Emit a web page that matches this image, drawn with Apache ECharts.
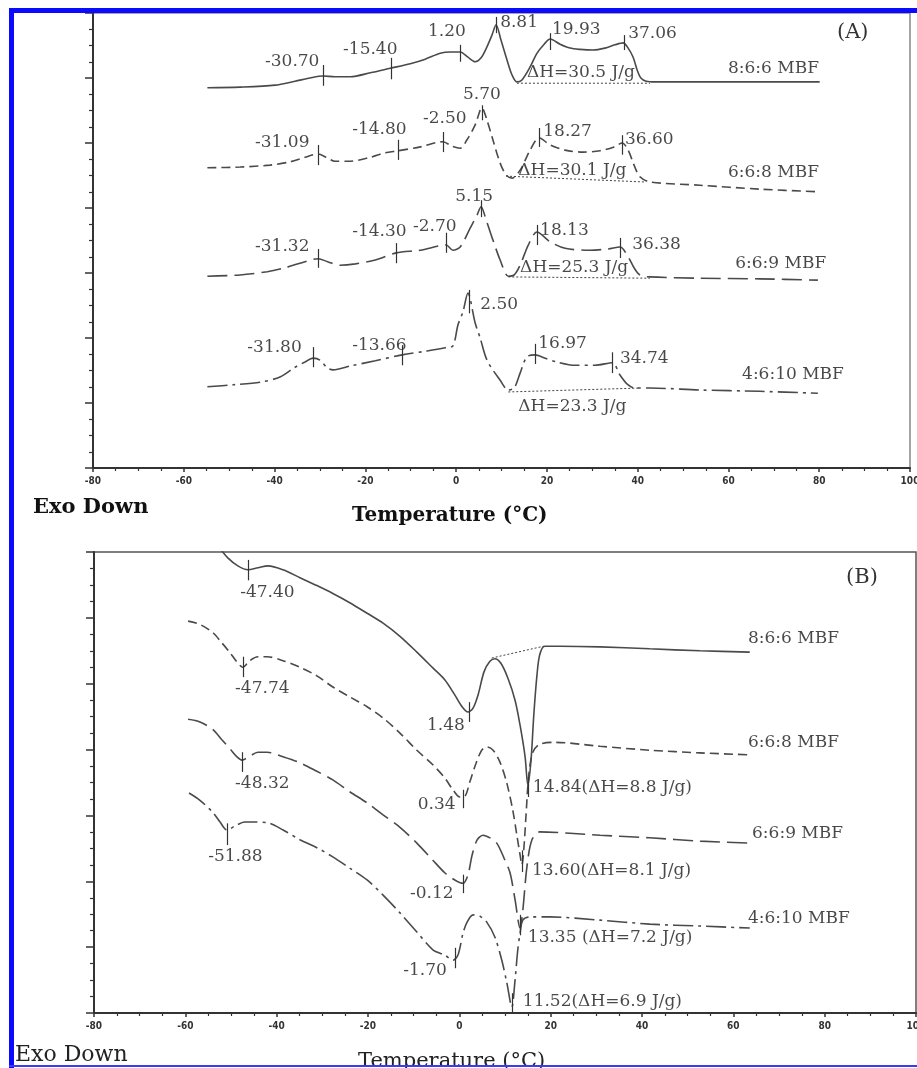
<!DOCTYPE html>
<html><head><meta charset="utf-8">
<script src="https://cdn.jsdelivr.net/npm/echarts@6/dist/echarts.min.js"></script>
<style>html,body{margin:0;padding:0;background:#fff;overflow:hidden}#c{width:917px;height:1068px}</style>
</head><body><div id="c"></div>
<script>
// ---------- axis settings ----------
const tempMin = -80, tempMax = 100, tempStep = 20;
const heatMin = 0, heatMax = 7, heatStep = 1;

// ---------- Panel A : heating curves [temperature, heat flow (a.u.)] ----------
const a866 = [[-54.8,5.85],[-47.6,5.86],[-39.9,5.89],[-35.5,5.95],[-32.2,6.00],[-29.3,6.03],[-26.7,6.02],[-23.3,6.02],[-18.9,6.08],[-14.5,6.15],[-10.1,6.22],[-6.8,6.29],[-3.5,6.38],[-1.3,6.40],[0.9,6.40],[2.6,6.32],[4.2,6.25],[5.5,6.31],[6.8,6.48],[7.9,6.66],[8.8,6.82],[9.9,6.58],[11.2,6.28],[12.3,6.05],[13.4,5.94],[14.5,5.97],[16.3,6.17],[17.8,6.38],[19.4,6.52],[20.7,6.60],[22.9,6.52],[25.1,6.46],[27.3,6.44],[30.2,6.43],[32.8,6.46],[35.0,6.51],[36.8,6.54],[37.9,6.46],[39.0,6.32],[39.9,6.12],[40.7,6.00],[41.9,5.95],[43.8,5.94],[53.7,5.94],[66.9,5.94],[80.1,5.94]];
const a668 = [[-54.8,4.62],[-47.6,4.63],[-41.0,4.66],[-36.6,4.71],[-33.3,4.78],[-30.4,4.83],[-28.6,4.78],[-26.7,4.72],[-23.3,4.72],[-18.9,4.78],[-15.6,4.85],[-12.8,4.88],[-7.9,4.94],[-2.9,5.02],[-0.9,4.95],[0.9,4.92],[2.4,5.05],[4.2,5.28],[5.7,5.54],[6.8,5.35],[8.1,5.05],[9.7,4.69],[11.0,4.51],[12.3,4.46],[14.1,4.58],[16.3,4.89],[18.3,5.08],[20.7,4.97],[24.0,4.89],[28.0,4.86],[31.7,4.88],[34.8,4.94],[36.6,5.00],[37.9,4.89],[39.2,4.66],[40.5,4.48],[42.7,4.40],[53.7,4.35],[66.9,4.29],[79.7,4.25]];
const a669 = [[-54.8,2.95],[-47.6,2.97],[-41.6,3.02],[-37.7,3.08],[-34.4,3.15],[-30.4,3.22],[-28.2,3.17],[-25.6,3.12],[-22.2,3.14],[-17.8,3.20],[-13.2,3.31],[-7.9,3.35],[-2.2,3.43],[-0.7,3.35],[0.9,3.40],[3.1,3.69],[4.6,3.89],[5.5,4.02],[6.6,3.82],[8.1,3.51],[9.7,3.20],[11.5,2.95],[12.8,2.97],[14.1,3.12],[15.9,3.43],[17.8,3.63],[20.7,3.48],[24.0,3.38],[29.5,3.35],[33.5,3.37],[36.1,3.40],[37.9,3.25],[39.2,3.08],[40.5,2.97],[42.7,2.94],[53.7,2.92],[66.9,2.91],[79.7,2.89]];
const a4610 = [[-54.8,1.25],[-49.1,1.28],[-43.2,1.32],[-38.8,1.40],[-35.5,1.55],[-33.3,1.63],[-31.5,1.69],[-30.0,1.66],[-28.4,1.54],[-27.1,1.51],[-23.3,1.57],[-17.8,1.65],[-11.9,1.74],[-6.4,1.80],[-2.4,1.85],[-0.7,1.88],[0.4,2.20],[1.5,2.40],[2.6,2.69],[4.2,2.23],[5.3,2.00],[6.8,1.66],[9.7,1.35],[11.5,1.20],[12.8,1.23],[14.1,1.46],[15.6,1.71],[17.4,1.74],[19.6,1.69],[22.2,1.63],[26.2,1.58],[30.6,1.58],[34.4,1.62],[36.1,1.43],[37.7,1.29],[39.4,1.23],[42.7,1.23],[53.7,1.20],[66.9,1.18],[79.7,1.15]];
// integration baselines
const aBase866 = [[13.4,5.92],[42.7,5.92]];
const aBase668 = [[11.0,4.49],[41.6,4.40]];
const aBase669 = [[11.5,2.94],[42.7,2.92]];
const aBase4610 = [[11.5,1.17],[40.5,1.23]];
// annotation tick marks [temperature, top, bottom]
const aTicks866 = [[-29.3,6.20,5.88],[-14.3,6.31,5.98],[0.9,6.51,6.25],[8.8,6.94,6.69],[20.7,6.69,6.43],[37.0,6.66,6.43]];
const aTicks668 = [[-30.4,4.97,4.66],[-12.8,5.05,4.74],[-2.9,5.17,4.86],[5.7,5.58,5.35],[18.3,5.23,4.94],[36.6,5.12,4.82]];
const aTicks669 = [[-30.4,3.37,3.08],[-13.2,3.46,3.15],[-2.2,3.62,3.31],[5.5,4.12,3.86],[17.8,3.74,3.43],[36.1,3.54,3.23]];
const aTicks4610 = [[-31.5,1.86,1.55],[-11.9,1.89,1.58],[2.9,2.74,2.38],[17.4,1.91,1.60],[34.4,1.78,1.46]];
// annotation texts [temperature, heat flow, text]
const aTexts = [
  [-42.1,6.25,'-30.70'],[-24.9,6.43,'-15.40'],[-6.2,6.71,'1.20'],[9.7,6.85,'8.81'],[21.1,6.74,'19.93'],[37.9,6.69,'37.06'],[15.6,6.09,'ΔH=30.5 J/g'],[59.9,6.15,'8:6:6 MBF'],
  [-44.3,5.00,'-31.09'],[-22.9,5.20,'-14.80'],[-7.3,5.38,'-2.50'],[1.5,5.74,'5.70'],[19.2,5.18,'18.27'],[37.2,5.05,'36.60'],[13.7,4.58,'ΔH=30.1 J/g'],[59.9,4.54,'6:6:8 MBF'],
  [-44.3,3.40,'-31.32'],[-22.9,3.63,'-14.30'],[-9.5,3.71,'-2.70'],[-0.2,4.17,'5.15'],[18.5,3.66,'18.13'],[38.8,3.43,'36.38'],[14.1,3.09,'ΔH=25.3 J/g'],[61.5,3.15,'6:6:9 MBF'],
  [-46.0,1.85,'-31.80'],[-22.9,1.89,'-13.66'],[5.3,2.51,'2.50'],[18.1,1.92,'16.97'],[36.1,1.69,'34.74'],[13.7,0.94,'ΔH=23.3 J/g'],[63.0,1.43,'4:6:10 MBF']
];

// ---------- Panel B : cooling curves ----------
const b866 = [[-52.9,7.10],[-50.7,6.91],[-48.5,6.79],[-46.3,6.73],[-44.1,6.76],[-41.9,6.79],[-38.6,6.73],[-34.9,6.61],[-31.2,6.49],[-27.7,6.37],[-24.0,6.23],[-20.2,6.07],[-16.7,5.92],[-13.0,5.72],[-9.3,5.48],[-5.8,5.24],[-3.2,5.06],[-1.0,4.83],[0.6,4.65],[1.9,4.57],[3.0,4.63],[4.1,4.83],[5.4,5.18],[6.7,5.34],[7.8,5.38],[9.1,5.31],[10.6,5.09],[12.2,4.75],[13.3,4.37],[14.4,3.89],[15.0,3.46],[15.7,3.84],[16.3,4.52],[17.0,5.13],[17.6,5.44],[18.7,5.57],[22.0,5.57],[30.8,5.56],[41.7,5.53],[52.7,5.50],[63.6,5.48]];
const b668 = [[-59.4,5.95],[-56.8,5.90],[-53.9,5.77],[-52.0,5.62],[-50.2,5.47],[-48.7,5.33],[-47.4,5.25],[-45.9,5.35],[-44.1,5.41],[-42.1,5.41],[-38.6,5.35],[-34.9,5.25],[-31.2,5.12],[-27.7,4.95],[-24.0,4.80],[-20.2,4.65],[-16.7,4.48],[-13.0,4.25],[-9.3,3.99],[-5.8,3.77],[-3.2,3.57],[-1.4,3.39],[0.1,3.28],[1.2,3.29],[2.3,3.51],[3.6,3.78],[4.9,3.99],[6.0,4.04],[7.4,3.99],[8.9,3.81],[10.4,3.49],[11.7,3.08],[12.6,2.70],[13.3,2.40],[13.7,2.25],[14.1,2.47],[14.6,3.00],[15.2,3.61],[16.1,3.96],[17.6,4.08],[20.9,4.11],[30.8,4.05],[41.7,3.99],[52.7,3.95],[63.6,3.92]];
const b669 = [[-59.4,4.46],[-56.8,4.42],[-53.9,4.30],[-52.0,4.15],[-50.2,4.01],[-48.7,3.89],[-47.6,3.84],[-45.9,3.90],[-44.1,3.96],[-42.1,3.96],[-38.6,3.89],[-34.9,3.80],[-31.2,3.67],[-27.7,3.54],[-24.0,3.36],[-20.2,3.19],[-16.7,3.01],[-13.0,2.82],[-9.3,2.58],[-5.8,2.32],[-3.2,2.13],[-1.0,2.02],[0.8,1.97],[1.9,2.10],[2.8,2.40],[3.9,2.63],[5.2,2.70],[6.7,2.66],[8.2,2.58],[9.8,2.35],[11.1,2.13],[12.2,1.72],[13.3,1.29],[13.9,1.56],[14.8,2.22],[15.9,2.63],[17.6,2.75],[24.2,2.73],[30.8,2.70],[41.7,2.66],[52.7,2.61],[63.6,2.58]];
const b4610 = [[-59.2,3.34],[-56.8,3.23],[-53.9,3.04],[-52.4,2.90],[-50.9,2.78],[-49.1,2.84],[-47.0,2.90],[-44.8,2.90],[-42.1,2.89],[-38.6,2.78],[-34.9,2.63],[-31.2,2.51],[-27.7,2.37],[-24.0,2.20],[-20.2,2.02],[-16.7,1.79],[-13.0,1.52],[-9.3,1.23],[-5.8,0.96],[-3.2,0.88],[-1.4,0.80],[-0.3,0.88],[0.8,1.21],[1.7,1.38],[3.0,1.49],[4.5,1.47],[6.0,1.38],[7.8,1.15],[9.3,0.80],[10.4,0.46],[11.5,0.09],[12.2,0.50],[12.8,0.96],[13.3,1.21],[13.9,1.41],[15.5,1.46],[19.8,1.46],[30.8,1.41],[41.7,1.35],[52.7,1.32],[63.6,1.29]];
const bBase866 = [[7.1,5.39],[18.5,5.57]];
const bTicks866 = [[-46.3,6.88,6.57],[2.1,4.72,4.42],[15.0,3.58,3.28]];
const bTicks668 = [[-47.4,5.41,5.10],[0.8,3.39,3.11],[13.7,2.47,2.14]];
const bTicks669 = [[-47.6,3.96,3.66],[0.8,2.10,1.82],[13.3,1.49,1.18]];
const bTicks4610 = [[-50.9,2.88,2.55],[-1.0,0.99,0.68],[11.5,0.30,0.00]];
const bTexts = [
  [-48.0,6.39,'-47.40'],[-7.1,4.36,'1.48'],[16.1,3.42,'14.84(ΔH=8.8 J/g)'],[63.2,5.69,'8:6:6 MBF'],
  [-49.1,4.92,'-47.74'],[-9.1,3.16,'0.34'],[15.9,2.16,'13.60(ΔH=8.1 J/g)'],[63.2,4.10,'6:6:8 MBF'],
  [-49.1,3.49,'-48.32'],[-10.8,1.82,'-0.12'],[15.0,1.15,'13.35 (ΔH=7.2 J/g)'],[64.1,2.73,'6:6:9 MBF'],
  [-55.0,2.38,'-51.88'],[-12.3,0.65,'-1.70'],[13.9,0.17,'11.52(ΔH=6.9 J/g)'],[63.2,1.44,'4:6:10 MBF']
];

// ---------- styles ----------
const CURVE = '#4a4a4a';
const SOLID = 'solid', DASH = [9,5], LONGDASH = [20,7], DASHDOT = [20,5,3,5];
const SERIF = '"DejaVu Serif", "Liberation Serif", serif';

function curve(data, idx, dash, ticks) {
  return {
    type: 'line', xAxisIndex: idx, yAxisIndex: idx, data: data, symbol: 'none',
    smooth: 0.3, clip: true, z: 3,
    lineStyle: { color: CURVE, width: 1.6, type: dash },
    markLine: {
      silent: true, symbol: ['none','none'], animation: false,
      label: { show: false },
      lineStyle: { color: '#333', width: 1.2, type: 'solid' },
      emphasis: { disabled: true },
      data: ticks.map(t => [{ coord: [t[0], t[1]] }, { coord: [t[0], t[2]] }])
    }
  };
}
function baseline(data, idx) {
  return { type: 'line', xAxisIndex: idx, yAxisIndex: idx, data: data, symbol: 'none', z: 2,
    lineStyle: { color: '#444', width: 1, type: [2,2] } };
}
function texts(list, idx) {
  return { type: 'scatter', xAxisIndex: idx, yAxisIndex: idx, symbolSize: 0, z: 5, silent: true,
    data: list.map(t => ({ value: [t[0], t[1]], name: t[2] })),
    label: { show: true, position: 'right', distance: 0, formatter: p => p.name,
      fontFamily: SERIF, fontSize: 17, color: '#1a1a1a' } };
}
function xAxis(idx) {
  return { type: 'value', gridIndex: idx, min: tempMin, max: tempMax, interval: tempStep,
    axisLine: { onZero: false, lineStyle: { color: '#333', width: 2 } },
    axisTick: { length: 4, lineStyle: { color: '#333', width: 1.5 } },
    minorTick: { show: true, splitNumber: 4, length: 3, lineStyle: { color: '#333', width: 1.2 } },
    splitLine: { show: false }, minorSplitLine: { show: false },
    axisLabel: { fontSize: 10, fontWeight: 'bold', color: '#333', margin: 8,
      fontFamily: '"Liberation Sans Narrow", "DejaVu Sans Condensed", "Liberation Sans", sans-serif' } };
}
function yAxis(idx) {
  return { type: 'value', gridIndex: idx, min: heatMin, max: heatMax, interval: heatStep,
    axisLine: { onZero: false, lineStyle: { color: '#333', width: 2 } },
    axisTick: { length: 8, lineStyle: { color: '#333', width: 1.5 } },
    minorTick: { show: true, splitNumber: 4, length: 4, lineStyle: { color: '#333', width: 1.2 } },
    splitLine: { show: false }, axisLabel: { show: false } };
}

const chart = echarts.init(document.getElementById('c'), null, { renderer: 'canvas' });
chart.setOption({
  animation: false,
  backgroundColor: '#fff',
  grid: [
    { left: 93, right: 7, top: 13, height: 455, show: true, borderColor: '#888', borderWidth: 1.5, outerBoundsMode: 'none', containLabel: false },
    { left: 94, right: 1, top: 552, height: 461, show: true, borderColor: '#555', borderWidth: 1.5, outerBoundsMode: 'none', containLabel: false }
  ],
  xAxis: [xAxis(0), xAxis(1)],
  yAxis: [yAxis(0), yAxis(1)],
  series: [
    curve(a866, 0, SOLID, aTicks866), curve(a668, 0, DASH, aTicks668),
    curve(a669, 0, LONGDASH, aTicks669), curve(a4610, 0, DASHDOT, aTicks4610),
    baseline(aBase866, 0), baseline(aBase668, 0), baseline(aBase669, 0), baseline(aBase4610, 0),
    texts(aTexts, 0),
    curve(b866, 1, SOLID, bTicks866), curve(b668, 1, DASH, bTicks668),
    curve(b669, 1, LONGDASH, bTicks669), curve(b4610, 1, DASHDOT, bTicks4610),
    baseline(bBase866, 1),
    texts(bTexts, 1)
  ],
  graphic: [
    { type: 'text', x: 837, y: 33, z: 10, style: { text: '(A)', font: '21px ' + SERIF, fill: '#333', verticalAlign: 'middle' } },
    { type: 'text', x: 846, y: 578, z: 10, style: { text: '(B)', font: '21px ' + SERIF, fill: '#333', verticalAlign: 'middle' } },
    { type: 'text', x: 33, y: 508, z: 10, style: { text: 'Exo Down', font: 'bold 21px ' + SERIF, fill: '#111', verticalAlign: 'middle' } },
    { type: 'text', x: 352, y: 516, z: 10, style: { text: 'Temperature (°C)', font: 'bold 20px ' + SERIF, fill: '#111', verticalAlign: 'middle' } },
    { type: 'text', x: 15, y: 1055, z: 10, style: { text: 'Exo Down', font: '22px ' + SERIF, fill: '#222', verticalAlign: 'middle' } },
    { type: 'text', x: 358, y: 1062, z: 10, style: { text: 'Temperature (°C)', font: '21px ' + SERIF, fill: '#222', verticalAlign: 'middle' } },
    { type: 'rect', z: 20, shape: { x: 9, y: 8, width: 908, height: 5 }, style: { fill: '#0a0aff' } },
    { type: 'rect', z: 20, shape: { x: 9, y: 8, width: 5, height: 1060 }, style: { fill: '#0a0aff' } },
    { type: 'rect', z: 20, shape: { x: 9, y: 1065, width: 908, height: 2 }, style: { fill: '#3a3aff' } }
  ]
});
</script></body></html>
